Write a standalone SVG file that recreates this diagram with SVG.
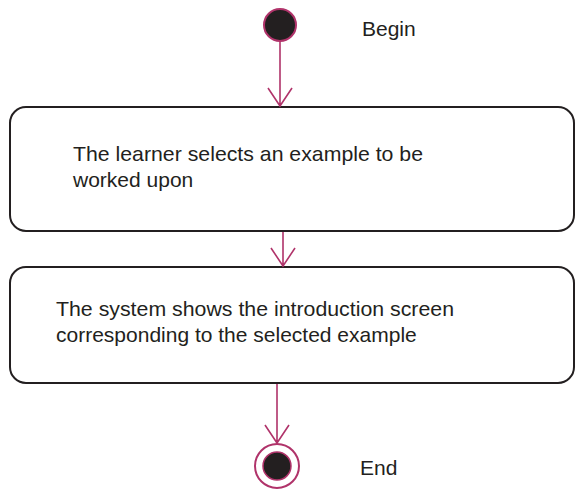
<svg xmlns="http://www.w3.org/2000/svg" width="575" height="490" viewBox="0 0 575 490">
<style>
.box{fill:#fff;stroke:#231f20;stroke-width:2}
.conn{stroke:#b0336a;stroke-width:1.6;fill:none}
.t{font-family:"Liberation Sans",Arial,sans-serif;font-size:21px;fill:#231f20}
</style>
<rect width="575" height="490" fill="#fff"/>
<g id="begin">
<circle cx="280" cy="25" r="16" fill="#231f20" stroke="#b0336a" stroke-width="2"/>
<text class="t" x="362" y="36">Begin</text>
</g>
<g id="step1">
<rect class="box" x="10" y="107" width="564" height="124" rx="16"/>
<text class="t" x="73" y="161" textLength="350" lengthAdjust="spacingAndGlyphs">The learner selects an example to be</text>
<text class="t" x="73" y="187">worked upon</text>
</g>
<g id="step2">
<rect class="box" x="10" y="267" width="564" height="116" rx="16"/>
<text class="t" x="56" y="316" textLength="398" lengthAdjust="spacingAndGlyphs">The system shows the introduction screen</text>
<text class="t" x="56" y="342">corresponding to the selected example</text>
</g>
<g id="end">
<circle cx="277" cy="466" r="22" fill="#fff" stroke="#b0336a" stroke-width="2"/>
<circle cx="277" cy="466" r="14" fill="#231f20" stroke="#b0336a" stroke-width="1.5"/>
<text class="t" x="360" y="475">End</text>
</g>
<g id="connectors">
<path class="conn" d="M280 41 V106 M268 88 L280 106 L292 88"/>
<path class="conn" d="M283 232 V266 M271 248 L283 266 L295 248"/>
<path class="conn" d="M277 384 V443 M265 425 L277 443 L289 425"/>
</g>
</svg>
